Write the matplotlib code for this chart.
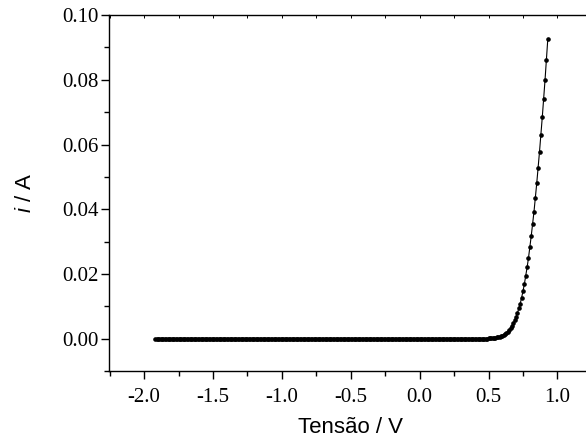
import numpy as np
import matplotlib
matplotlib.use("Agg")
import matplotlib.pyplot as plt
from matplotlib.ticker import MultipleLocator

# sweep voltage (V), 0.01 V steps from -1.92 to 0.93
voltage = np.round(np.arange(-1.92, 0.935, 0.01), 2)

# current (A): flat part (-1.92 .. 0.48 V) is zero
current_flat = [
    0, 0, 0, 0, 0, 0, 0, 0, 0, 0, 0, 0, 0, 0, 0, 0, 0, 0, 0, 0,
    0, 0, 0, 0, 0, 0, 0, 0, 0, 0, 0, 0, 0, 0, 0, 0, 0, 0, 0, 0,
    0, 0, 0, 0, 0, 0, 0, 0, 0, 0, 0, 0, 0, 0, 0, 0, 0, 0, 0, 0,
    0, 0, 0, 0, 0, 0, 0, 0, 0, 0, 0, 0, 0, 0, 0, 0, 0, 0, 0, 0,
    0, 0, 0, 0, 0, 0, 0, 0, 0, 0, 0, 0, 0, 0, 0, 0, 0, 0, 0, 0,
    0, 0, 0, 0, 0, 0, 0, 0, 0, 0, 0, 0, 0, 0, 0, 0, 0, 0, 0, 0,
    0, 0, 0, 0, 0, 0, 0, 0, 0, 0, 0, 0, 0, 0, 0, 0, 0, 0, 0, 0,
    0, 0, 0, 0, 0, 0, 0, 0, 0, 0, 0, 0, 0, 0, 0, 0, 0, 0, 0, 0,
    0, 0, 0, 0, 0, 0, 0, 0, 0, 0, 0, 0, 0, 0, 0, 0, 0, 0, 0, 0,
    0, 0, 0, 0, 0, 0, 0, 0, 0, 0, 0, 0, 0, 0, 0, 0, 0, 0, 0, 0,
    0, 0, 0, 0, 0, 0, 0, 0, 0, 0, 0, 0, 0, 0, 0, 0, 0, 0, 0, 0,
    0, 0, 0, 0, 0, 0, 0, 0, 0, 0, 0, 0, 0, 0, 0, 0, 0, 0, 0, 0,
    0,
]
# knee and forward region, 0.49 .. 0.93 V
current_knee = [
    0.0001, 0.00012, 0.00015, 0.00018, 0.00023, 0.00028, 0.00035, 0.00043,
    0.00053, 0.00065, 0.0008, 0.001, 0.0012, 0.0015, 0.0018,
    0.0022, 0.0027, 0.0033, 0.0040, 0.0048, 0.0057, 0.0068, 0.0080,
    0.0094, 0.0109, 0.0127, 0.0147, 0.0169, 0.0194, 0.0221, 0.0250,
    0.0283, 0.0318, 0.0355, 0.0393, 0.0436, 0.0481, 0.0528, 0.0578,
    0.0630, 0.0684, 0.0741, 0.0799, 0.0861, 0.0925,
]
current = np.array(current_flat + current_knee, dtype=float)

plt.rcParams['font.family'] = 'Liberation Serif'
plt.rcParams['axes.unicode_minus'] = False
plt.rcParams['mathtext.fontset'] = 'custom'
plt.rcParams['mathtext.it'] = 'Liberation Sans:italic'
plt.rcParams['mathtext.rm'] = 'Liberation Sans'

fig = plt.figure(figsize=(5.86, 4.43), dpi=100)
ax = fig.add_axes([0.186, 0.162, 0.824, 0.804])

ax.plot(voltage, current, color='black', lw=0.8, marker='o', ms=2.3,
        mec='black', mfc='black')

ax.set_xlim(-2.255, 1.25)
ax.set_ylim(-0.01, 0.10)

ax.xaxis.set_major_locator(MultipleLocator(0.5))
ax.xaxis.set_minor_locator(MultipleLocator(0.25))
ax.yaxis.set_major_locator(MultipleLocator(0.02))
ax.yaxis.set_minor_locator(MultipleLocator(0.01))
ax.xaxis.set_major_formatter(plt.FormatStrFormatter('%.1f'))
ax.yaxis.set_major_formatter(plt.FormatStrFormatter('%.2f'))

for s in ax.spines.values():
    s.set_linewidth(1.0)
ax.spines['right'].set_visible(False)

ax.tick_params(axis='both', which='major', direction='out', length=5.8,
               width=1.0, labelsize=15, right=False)
ax.tick_params(axis='both', which='minor', direction='out', length=3.3,
               width=1.0, right=False)
ax.tick_params(axis='x', which='both', top=True)
ax.tick_params(axis='x', which='major', pad=6.5)
ax.tick_params(axis='y', which='major', pad=1.5)
# top axis ticks point inward and are short
for t in ax.xaxis.get_major_ticks() + ax.xaxis.get_minor_ticks():
    t.tick2line.set_marker(3)  # TICKDOWN
    t.tick2line.set_markersize(2.2)
    t.tick2line.set_markeredgewidth(0.7)

ax.set_xlabel('Tensão / V', fontsize=16, fontfamily='Liberation Sans', labelpad=7)
ax.set_ylabel('$i$ / A', fontsize=16, fontfamily='Liberation Sans', labelpad=19)

fig.savefig('out.png', dpi=100)
